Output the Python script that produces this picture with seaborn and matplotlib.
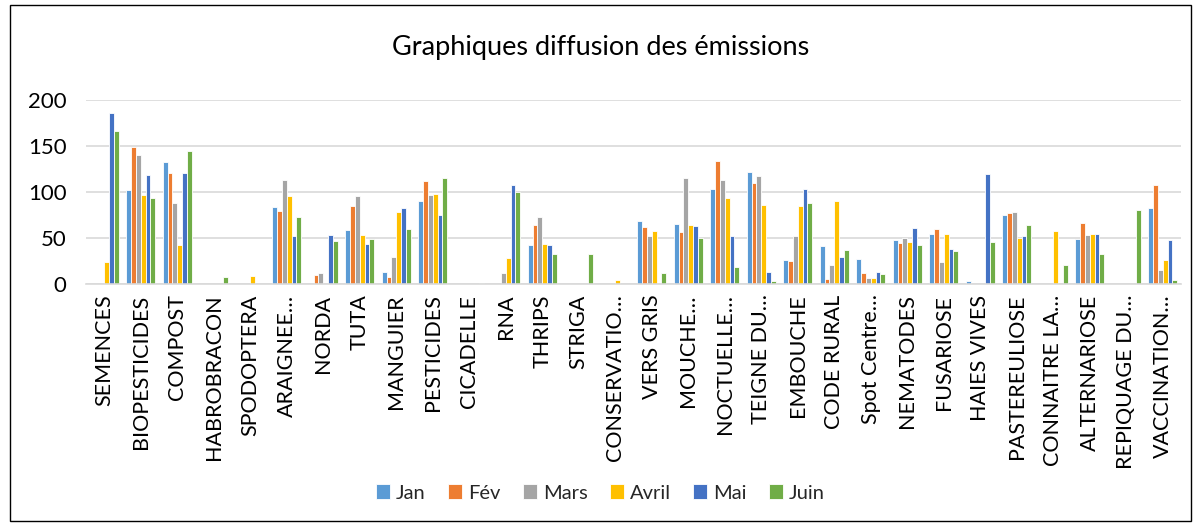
import pandas as pd
import matplotlib
matplotlib.use("Agg")
import matplotlib.pyplot as plt
import seaborn as sns
from matplotlib.patches import Rectangle

# Catégories (libellés tronqués comme dans Excel)
categories = [
    "SEMENCES", "BIOPESTICIDES", "COMPOST", "HABROBRACON", "SPODOPTERA",
    "ARAIGNEE…", "NORDA", "TUTA", "MANGUIER", "PESTICIDES",
    "CICADELLE", "RNA", "THRIPS", "STRIGA", "CONSERVATIO…",
    "VERS GRIS", "MOUCHE…", "NOCTUELLE…", "TEIGNE DU…", "EMBOUCHE",
    "CODE RURAL", "Spot Centre…", "NEMATODES", "FUSARIOSE", "HAIES VIVES",
    "PASTEREULIOSE", "CONNAITRE LA…", "ALTERNARIOSE", "REPIQUAGE DU…", "VACCINATION…",
]

jan = [0, 102, 132, 0, 0, 83, 0, 58, 13, 90,
       0, 0, 42, 0, 0, 68, 65, 103, 121, 26,
       41, 27, 47, 54, 3, 75, 0, 48, 0, 82]
fev = [0, 149, 120, 0, 0, 79, 9, 84, 7, 112,
       0, 0, 64, 0, 0, 62, 56, 133, 110, 24,
       5, 11, 44, 59, 0, 77, 0, 66, 0, 107]
mars = [0, 140, 88, 0, 0, 113, 11, 95, 29, 97,
        0, 11, 73, 0, 0, 52, 115, 113, 117, 52,
        20, 6, 50, 23, 0, 78, 0, 53, 0, 15]
avril = [23, 96, 42, 0, 8, 95, 0, 53, 78, 98,
         0, 28, 43, 0, 4, 57, 64, 93, 86, 84,
         90, 6, 45, 54, 0, 50, 57, 54, 0, 26]
mai = [186, 118, 120, 0, 0, 52, 53, 43, 82, 75,
       0, 107, 42, 0, 0, 1, 63, 52, 13, 103,
       29, 12, 60, 38, 119, 52, 0, 54, 0, 47]
juin = [166, 93, 144, 7, 0, 73, 46, 49, 59, 115,
        1, 100, 32, 32, 0, 11, 50, 18, 3, 88,
        37, 10, 42, 35, 45, 64, 20, 32, 80, 4]

mois = ["Jan", "Fév", "Mars", "Avril", "Mai", "Juin"]
couleurs = ["#5B9BD5", "#ED7D31", "#A5A5A5", "#FFC000", "#4472C4", "#70AD47"]


def main() -> None:
    sns.set_theme(style="white")
    plt.rcParams["font.family"] = ["Lato", "DejaVu Sans"]

    # Tableau long pour seaborn
    series = [jan, fev, mars, avril, mai, juin]
    rows = []
    for m, vals in zip(mois, series):
        for c, v in zip(categories, vals):
            rows.append({"Catégorie": c, "Mois": m, "Valeur": v})
    df = pd.DataFrame(rows)

    fig = plt.figure(figsize=(12.01, 5.26), dpi=100)
    ax = fig.add_axes([86 / 1201, 1 - 283.5 / 526, 1095 / 1201, 183.5 / 526])

    sns.barplot(
        data=df, x="Catégorie", y="Valeur", hue="Mois",
        hue_order=mois, order=categories, palette=couleurs,
        saturation=1, width=0.8, edgecolor="white", linewidth=0.6,
        ax=ax, legend=True,
    )

    ax.set_ylim(0, 200)
    ax.set_xlim(-0.5, len(categories) - 0.5)
    ax.set_yticks([0, 50, 100, 150, 200])
    ax.yaxis.grid(True, color="#D9D9D9", linewidth=1.2)
    ax.set_axisbelow(True)
    for s in ["top", "right", "left"]:
        ax.spines[s].set_visible(False)
    ax.spines["bottom"].set_color("#D9D9D9")
    ax.spines["bottom"].set_linewidth(1.2)

    ax.set_xlabel("")
    ax.set_ylabel("")
    ax.tick_params(axis="y", labelsize=16, colors="#000000", length=0, pad=14)
    ax.tick_params(axis="x", labelsize=15.5, colors="#000000", length=0, pad=8)
    plt.setp(ax.get_xticklabels(), rotation=90, va="top", ha="center")

    # Légende en bas
    handles, labels = ax.get_legend_handles_labels()
    ax.get_legend().remove()
    fig.legend(
        handles, labels, loc="center", bbox_to_anchor=(0.5, 1 - 493 / 526),
        ncol=6, frameon=False, fontsize=14.5, handlelength=0.7, handleheight=0.7,
        handletextpad=0.3, columnspacing=1.1,
    )

    fig.text(0.5, 1 - 48 / 526, "Graphiques diffusion des émissions",
             ha="center", va="center", fontsize=19.5, color="#000000")

    # Cadre du graphique
    fig.patches.append(Rectangle((10 / 1201, 5 / 526), 1181 / 1201, 516 / 526,
                                 transform=fig.transFigure, fill=False,
                                 edgecolor="#000000", linewidth=1))

    fig.savefig("out.png", dpi=100)


if __name__ == "__main__":
    main()
